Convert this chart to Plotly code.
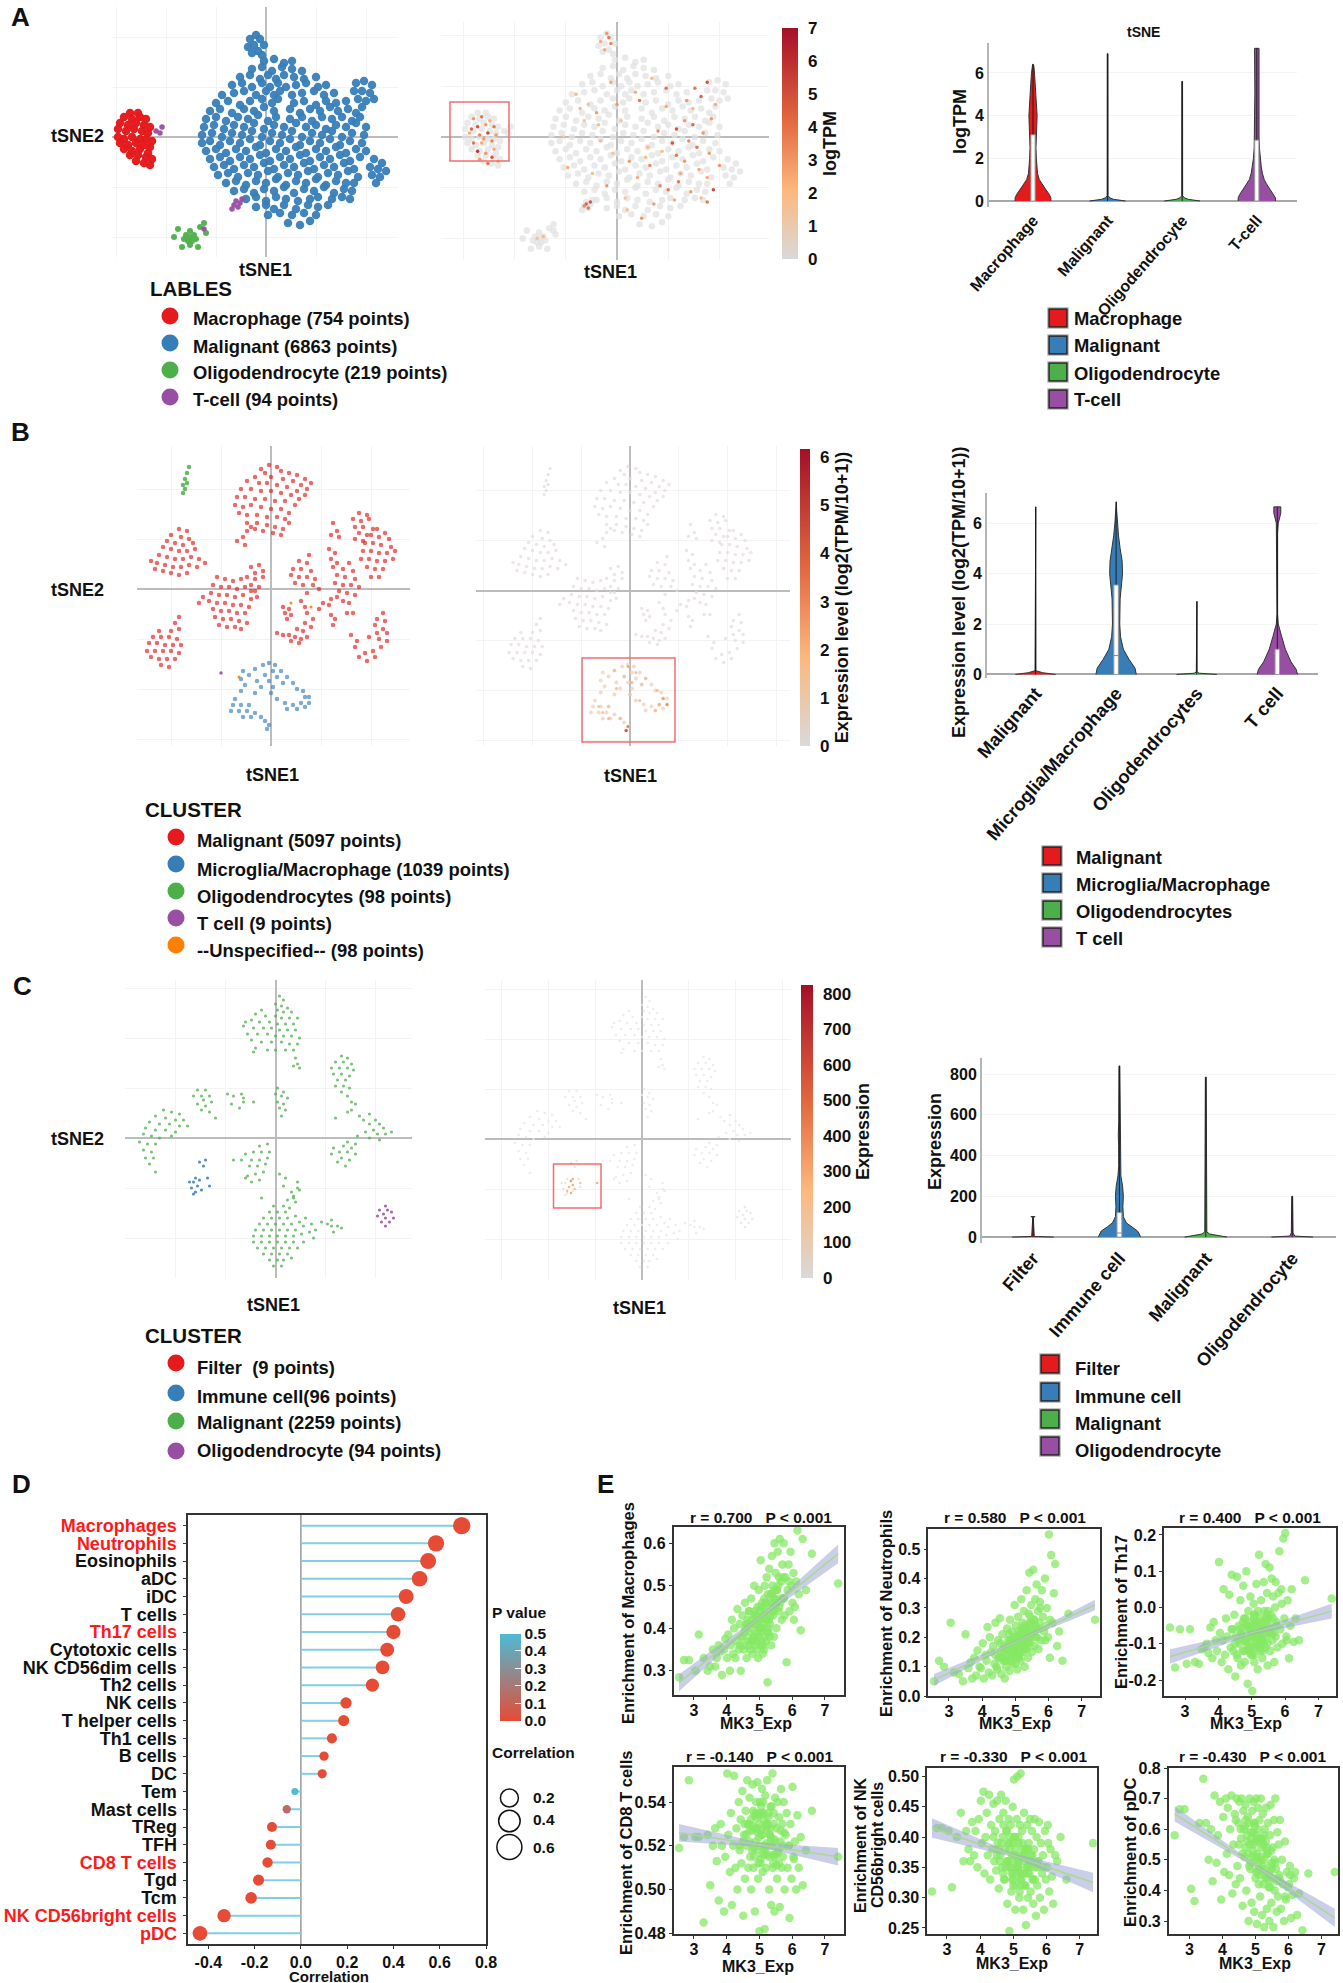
import plotly.graph_objects as go

W, H = 1343, 1983
FONT = "Liberation Sans"
RED, BLUE, GREEN, PURPLE, ORANGE = "#E41A1C", "#377EB8", "#4DAF4A", "#984EA3", "#FF7F00"

# ---------- legends ----------
A_LABELS = ["Macrophage (754 points)", "Malignant (6863 points)", "Oligodendrocyte (219 points)", "T-cell (94 points)"]
B_LABELS = ["Malignant (5097 points)", "Microglia/Macrophage (1039 points)", "Oligodendrocytes (98 points)", "T cell (9 points)", "--Unspecified-- (98 points)"]
C_LABELS = ["Filter  (9 points)", "Immune cell(96 points)", "Malignant (2259 points)", "Oligodendrocyte (94 points)"]
A_CATS = ["Macrophage", "Malignant", "Oligodendrocyte", "T-cell"]
B_CATS = ["Malignant", "Microglia/Macrophage", "Oligodendrocytes", "T cell"]
C_CATS = ["Filter", "Immune cell", "Malignant", "Oligodendrocyte"]

# ---------- tSNE A (flat u,v pairs) ----------
A_MALIGNANT = [
-1,38,4,39,9,37,13,38,-7,34,-2,35,3,33,8,35,13,34,18,33,-13,30,-8,31,-3,29,1,31,5,29,9,31,14,30,19,29,25,30,
-17,26,-12,27,-7,25,-2,27,2,25,6,27,10,25,15,26,20,27,26,25,30,26,-22,21,-16,22,-11,23,-5,21,0,23,4,21,7,23,13,21,18,22,24,23,29,21,34,22,
-25,17,-19,18,-13,16,-8,18,-2,19,3,17,6,19,14,17,19,18,25,16,30,18,35,17,40,18,-28,13,-23,14,-17,12,-11,14,-6,13,-1,15,4,13,12,14,17,12,22,14,27,13,32,15,36,13,41,14,45,12,
-30,9,-25,10,-20,8,-14,10,-9,9,-4,11,1,8,5,10,12,9,18,10,23,8,28,10,33,9,38,10,43,8,47,10,-31,5,-26,6,-21,4,-16,6,-11,5,-6,7,-1,4,4,6,9,5,15,7,20,5,25,6,30,4,35,6,40,5,45,7,50,5,
-32,1,-27,2,-22,0,-17,2,-12,1,-7,3,-2,0,3,2,8,1,13,3,18,0,23,2,28,1,33,3,38,0,43,2,49,1,-32,-3,-28,-2,-23,-4,-18,-2,-13,-3,-8,-1,-3,-4,2,-2,7,-3,12,-1,17,-4,22,-2,27,-3,32,-1,37,-4,42,-2,48,-3,
-30,-7,-25,-6,-20,-8,-15,-6,-10,-7,-5,-5,0,-8,5,-6,10,-7,15,-5,20,-8,25,-6,30,-7,35,-5,40,-8,45,-6,50,-7,-28,-11,-23,-10,-18,-12,-13,-10,-8,-11,-3,-9,2,-12,7,-10,12,-11,17,-9,22,-12,27,-10,32,-11,37,-9,42,-12,47,-10,
-26,-15,-21,-14,-16,-16,-11,-14,-6,-15,-1,-13,4,-16,9,-14,14,-15,19,-13,24,-16,29,-14,34,-15,39,-13,44,-16,-24,-19,-19,-18,-14,-20,-9,-18,-4,-19,1,-17,6,-20,11,-18,16,-19,21,-17,26,-20,31,-18,36,-19,41,-17,46,-20,
-20,-23,-15,-22,-10,-24,-5,-22,0,-23,5,-21,10,-24,15,-22,20,-23,25,-21,30,-24,35,-22,40,-23,44,-23,-16,-27,-11,-26,-6,-28,-1,-26,4,-27,9,-25,14,-28,19,-26,24,-27,29,-25,34,-28,39,-26,43,-27,
-10,-31,-5,-30,0,-32,5,-30,10,-31,16,-32,22,-31,26,-30,33,-31,38,-30,42,-31,-5,-35,0,-34,4,-36,9,-34,15,-36,21,-34,26,-35,31,-34,1,-39,7,-38,13,-39,19,-38,25,-39,11,-43,17,-44,22,-42,
-5,51,-8,49,-3,49,-6,46,-1,46,-9,45,-4,43,-7,42,-2,41,45,27,49,28,53,26,44,23,48,23,52,22,46,19,50,18,54,19,48,15,54,-11,58,-13,52,-15,56,-16,60,-17,53,-19,57,-20,55,-23]
A_MACROPHAGE = [
-68,12,-64,12,-71,10,-67,9,-63,10,-60,9,-73,7,-69,6,-65,7,-61,6,-58,5,-74,4,-70,3,-66,4,-62,3,-59,2,-74,0,-71,-1,-67,0,-63,-1,-60,-1,-57,-2,
-73,-3,-69,-4,-65,-3,-61,-4,-58,-5,-71,-6,-67,-7,-63,-6,-59,-8,-68,-9,-64,-9,-60,-10,-57,-11,-65,-12,-61,-13,-58,-14]
A_OLIGO = [-38,-50,-36,-49,-40,-49,-38,-47,-37,-52,-39,-52,-35,-51,-41,-51,-38,-54,-33,-45,-44,-46,-30,-48,-31,-43,-46,-50,-34,-55,-42,-55]
A_TCELL = [-15,-32,-13,-33,-16,-34,-14,-35,-12,-31,-17,-36,-55,3,-53,2,-52,5,-31,-46]
A_EXPR_U = [-70,-66,-62,-68,-64,-60,-72,-67,-63,-59,-70,-66,-61,-68,-64,-60,-71,-65,-61,-58,-67,-63,-5,-8,-3,-6,-4,-15,-13,-16,-14,-39,-36]
A_EXPR_V = [9,10,8,5,6,5,2,1,2,1,-3,-3,-2,-7,-8,-6,4,-1,-10,-12,-11,-13,51,47,46,43,49,-33,-32,-34,-35,-50,-49]
A_EXPR_C = [3,4,2.5,5,3,4,2.5,3.5,5.5,3,4,2.5,3.5,6,3,2.5,4.5,3,5,2.5,3,4,3,2.5,3.5,2.5,4,4.5,5,3.5,4,1.5,2]
A_BLOB_U = [-20,-14,-10,-3,2,6,11,15,20,24,29,33,37,41,46,-12,-5,4,10,16,22,27,33,39,44,-16,-8,0,9,17,24,29,35,40,45,30,36,41,47,18,25,31,37,42,14,21,28,34,38,44,48,5,12,-2,-9,-24,-18,50,44,-26]
A_BLOB_V = [21,16,12,27,8,-12,18,-5,3,15,-9,8,14,20,9,-18,-24,-30,-20,-14,-7,-3,-12,-5,-20,8,-2,16,22,29,24,4,-2,-16,-8,-22,-27,-30,-26,-33,-26,-18,6,2,-10,-24,-31,18,24,27,16,-36,-40,-8,6,-15,14,-14,-32,0]
A_BLOB_C = [2,1.5,3,2.5,1.5,3,4,2,3.5,2.5,4,3,2,4.5,3,2,3,1.5,2.5,3.5,2,5,3,4,2.5,1.5,2,3,2.5,2,4,5,3.5,2.5,3,4,3,2,5.5,3,4,2.5,4.5,3,2,3.5,2.5,3,4,5,2.5,2,3,1.5,2,2.5,2,3,4,1.5]

# ---------- tSNE B ----------
B_MALIGNANT = [
-1,62,3,61,-5,60,5,59,9,58,-3,58,13,57,17,55,20,53,-8,56,0,56,6,55,11,54,15,52,18,50,-12,54,-6,53,-2,53,3,52,8,51,13,49,17,47,-15,50,-10,50,-5,49,0,49,5,48,10,47,14,45,-17,46,-13,46,-8,45,-3,45,2,44,7,44,12,42,-18,42,-14,41,-10,42,-5,41,0,40,5,40,9,38,-16,38,-12,37,-7,37,-2,36,3,36,7,35,-12,33,-7,33,-2,32,2,31,6,30,-4,29,1,28,5,27,-8,30,9,33,
-46,30,-42,29,-50,27,-45,26,-41,25,-52,24,-48,23,-44,22,-39,23,-54,21,-50,20,-46,19,-42,19,-38,20,-56,17,-52,16,-48,15,-44,15,-40,16,-36,15,-33,13,-60,14,-57,13,-53,12,-49,11,-45,11,-41,12,-37,11,-58,10,-54,9,-50,8,-46,7,-42,8,
-27,6,-23,5,-19,4,-15,5,-29,2,-25,1,-21,1,-17,0,-13,1,-10,-1,-30,-2,-26,-3,-22,-3,-18,-4,-14,-3,-10,-5,-31,-6,-27,-7,-23,-7,-19,-8,-15,-8,-11,-9,-29,-10,-25,-11,-21,-11,-17,-12,-13,-12,-28,-14,-24,-15,-20,-15,-16,-16,-12,-17,-26,-18,-22,-19,-18,-19,-15,-20,-36,-7,-34,-4,
-10,11,-6,12,-8,8,-4,9,-12,6,-8,5,-4,6,-10,2,-6,1,-8,-1,-7,-4,
19,17,14,14,18,13,11,10,15,10,20,9,10,7,14,6,18,6,22,5,12,3,16,2,21,2,24,0,18,-2,15,-6,17,-9,
39,13,36,10,41,9,33,7,37,6,42,5,32,3,36,2,40,2,44,1,34,-1,38,-2,42,-3,36,-6,39,-7,30,-5,31,33,33,29,30,27,34,26,29,20,32,18,30,15,33,13,31,11,
44,38,48,37,41,35,45,34,49,35,42,31,46,31,51,30,44,28,48,27,42,25,46,24,53,30,57,28,50,27,54,26,59,25,47,23,51,23,55,22,60,21,46,19,50,19,54,18,58,18,62,19,45,15,49,15,53,14,57,14,61,15,48,11,52,10,56,10,50,6,54,6,
-46,-14,-48,-17,-46,-20,-50,-21,-56,-21,-59,-24,-55,-24,-51,-24,-47,-25,-61,-27,-57,-27,-53,-28,-49,-28,-45,-28,-62,-31,-58,-31,-54,-31,-50,-31,-46,-32,-60,-34,-56,-35,-52,-35,-48,-35,-55,-38,-51,-39,
18,-12,21,-15,17,-17,20,-19,13,-20,16,-21,9,-23,12,-24,15,-25,18,-24,3,-22,6,-23,10,-26,14,-27,6,-9,9,-10,7,-12,10,-13,8,-15,26,-7,29,-8,24,-10,33,-4,30,-13,32,-15,31,-18,38,-12,41,-12,
56,-12,53,-15,57,-16,52,-18,56,-20,58,-22,53,-22,49,-24,54,-25,58,-26,40,-23,43,-26,42,-29,55,-29,51,-31,47,-32,44,-34,48,-36,52,-34,-17,24,-14,26,-12,29,-13,22,-10,31]
B_MICROGLIA = [
-1,-37,2,-38,-4,-38,-8,-40,1,-41,5,-41,-14,-41,-11,-43,-3,-43,3,-44,8,-44,-15,-45,-7,-46,-1,-46,6,-47,11,-47,-13,-48,-5,-49,1,-49,13,-50,16,-51,-15,-51,-8,-52,0,-52,17,-54,19,-54,3,-55,-18,-55,19,-57,15,-57,7,-57,11,-58,-19,-58,-15,-58,-11,-58,8,-60,13,-60,17,-59,-20,-61,-16,-61,-12,-61,-8,-62,-14,-64,-10,-64,-5,-64,-3,-66,-1,-68,-2,-70]
B_OLIGO = [-41,61,-42,58,-43,55,-42,53,-44,52,-43,50,-44,48]
B_TCELL = [-25,-42]
B_UNSPEC = [-16,-44,10,-7,20,-9]
B_EXPR_U = [-1,3,-3,1,6,-7,-11,14,17,19,15,13,-14,-11,-16,-5,-1,-2,0,5,8,-8]
B_EXPR_V = [-38,-41,-43,-46,-47,-49,-58,-50,-54,-57,-57,-60,-61,-64,-58,-64,-68,-70,-52,-55,-44,-40]
B_EXPR_C = [2.2,1.5,1.2,1.8,1,1.4,1.2,1.6,2.5,2.8,2.1,1.5,1.2,1.6,1.1,1.4,3.2,4.6,1.3,1.1,1.2,1.5]

# ---------- tSNE C ----------
C_MALIGNANT = [
2,71,4,69,0,67,3,66,6,65,-7,64,1,64,4,63,8,63,-10,62,-5,61,0,61,3,60,7,60,11,60,-12,59,-15,58,-8,58,-3,58,1,57,5,57,9,57,-16,56,-11,55,-6,55,-2,55,2,54,6,54,10,54,-14,52,-9,52,-4,52,0,51,4,51,8,51,12,50,-12,49,-7,48,-2,48,3,48,7,47,11,47,-10,45,-11,43,-4,44,0,44,5,44,9,44,10,40,11,37,9,36,12,35,
33,41,36,40,30,38,34,38,38,37,28,35,32,35,36,35,39,34,29,32,33,32,37,31,31,29,35,29,30,26,34,26,37,25,33,23,36,21,38,18,40,17,36,13,
-39,24,-35,24,-41,21,-37,21,-33,21,-36,19,-32,18,-39,17,-35,16,-37,14,-33,13,-30,10,-24,22,-21,21,-17,22,-16,18,-22,17,-18,15,-16,20,-11,18,1,25,4,23,0,22,3,21,6,20,1,18,4,17,2,15,5,14,3,11,
-56,14,-52,13,-48,12,-60,11,-55,10,-50,9,-46,9,-63,8,-58,7,-53,7,-48,6,-44,6,-65,5,-60,4,-55,4,-50,3,-66,2,-62,1,-58,0,-52,1,-68,-2,-64,-3,-60,-3,-66,-6,-62,-7,-65,-10,-61,-10,-63,-13,-60,-17,
38,14,42,11,47,12,44,9,50,9,47,7,52,7,54,5,49,4,45,3,51,2,55,2,58,3,47,0,52,-1,41,1,36,-2,30,10,40,-3,34,-4,38,-5,32,-7,36,-7,40,-8,33,-10,37,-11,31,-12,35,-14,29,-5,28,-8,
-4,-3,-8,-4,-3,-7,-7,-7,-11,-7,-15,-8,-4,-10,-8,-11,-12,-11,-17,-11,-21,-11,-5,-13,-9,-14,-13,-14,-6,-17,-10,-18,-14,-19,-8,-21,-12,-22,-15,-20,2,-18,5,-20,4,-24,11,-22,11,-25,9,-29,
8,-27,9,-30,6,-31,10,-32,4,-34,7,-35,12,-26,-7,-30,-1,-34,-3,-37,1,-37,5,-37,-6,-40,-2,-40,2,-40,6,-40,10,-39,-8,-43,-4,-43,0,-43,4,-43,8,-43,12,-42,15,-40,-10,-46,-6,-46,-2,-46,2,-46,6,-46,10,-46,14,-44,18,-43,20,-46,-11,-49,-7,-49,-3,-49,1,-49,5,-49,9,-49,13,-48,17,-47,19,-50,-11,-52,-7,-52,-3,-52,1,-52,5,-52,9,-52,14,-52,-9,-55,-5,-55,-1,-55,3,-55,7,-55,11,-55,-6,-58,-2,-58,2,-58,6,-58,-3,-61,1,-61,4,-61,8,-60,-1,-64,3,-64,
23,-42,26,-43,28,-44,31,-44,33,-45,28,-41,29,-47]
C_IMMUNE = [-41,-22,-39,-24,-42,-25,-38,-21,-40,-27,-37,-26,-43,-22,-40,-20,-41,-28,-33,-24,-34,-20,-36,-14,-35,-11,-38,-12]
C_OLIGO = [55,-34,52,-36,56,-36,58,-37,54,-38,51,-39,55,-40,59,-40,53,-42,57,-42,55,-44]
C_EXPR_U = [-37,-38,-39,-36,-38,-33,-24,-40,-37]
C_EXPR_V = [-23,-21,-24,-25,-27,-22,-22,-26,-20]
C_EXPR_C = [300,350,250,200,300,150,300,220,280]

# ---------- violins: level, half width in category units ----------
A_V_Y = [[0,.15,.3,.6,.8,1,1.3,1.6,2,2.5,3,3.5,4,4.5,5,5.5,6,6.3,6.4],[0,.08,.15,.25,6.9],[0,.08,.15,.25,5.6],[0,.15,.3,.6,.8,1,1.3,1.6,2,2.5,3,4,5,6,6.8,7.15]]
A_V_W = [[.24,.24,.22,.16,.12,.085,.06,.05,.045,.04,.04,.05,.055,.05,.04,.03,.02,.012,.005],[.24,.08,.03,.006,.005],[.24,.08,.03,.006,.005],[.25,.25,.23,.17,.13,.1,.075,.06,.045,.035,.03,.03,.026,.024,.03,.03]]
A_BOX_Q3 = [3.1,0,0,2.85]
B_V_Y = [[0,.07,.15,6.65],[0,.25,.6,1,1.5,2,3,3.5,4,4.5,5,5.5,6,6.5,6.85],[0,.05,.1,2.9],[0,.2,.5,1,1.5,2,2.4,5.6,6,6.4,6.65]]
B_V_W = [[.25,.09,.006,.004],[.25,.235,.16,.09,.055,.045,.05,.062,.08,.075,.05,.03,.015,.007,.003],[.25,.03,.005,.004],[.25,.235,.17,.1,.055,.012,.004,.004,.012,.043,.043]]
B_BOX_Q3 = [0,3.55,0,1.0]
B_BOX_MED = [0,.75,0,0]
C_V_Y = [[0,3,96,100,100],[0,15,30,50,70,100,150,200,250,300,350,450,500,560,840],[0,8,15,25,785],[0,5,20,200]]
C_V_W = [[.24,.015,.003,.003,.025],[.245,.23,.21,.14,.08,.046,.04,.046,.037,.017,.008,.009,.013,.008,.005],[.245,.12,.045,.012,.005],[.24,.03,.01,.005]]
C_BOX_Q3 = [0,120,0,0]
C_BOX_MED = [0,20,0,0]

# ---------- panel D ----------
D_CELLS = ["Macrophages","Neutrophils","Eosinophils","aDC","iDC","T cells","Th17 cells","Cytotoxic cells","NK CD56dim cells","Th2 cells","NK cells","T helper cells","Th1 cells","B cells","DC","Tem","Mast cells","TReg","TFH","CD8 T cells","Tgd","Tcm","NK CD56bright cells","pDC"]
D_RED = ["Macrophages","Neutrophils","Th17 cells","CD8 T cells","NK CD56bright cells","pDC"]
D_CORR = [.695,.584,.55,.513,.455,.42,.40,.373,.353,.309,.195,.185,.134,.10,.092,-.026,-.061,-.125,-.13,-.144,-.183,-.215,-.332,-.436]
D_P = [0,0,0,0,0,0,0,0,0,0,0,0,0,.001,.002,.5,.15,.003,.002,.001,0,0,0,0]
D_SIZE_KEY = [.2,.4,.6]

# ---------- panel E ----------
MK3_EXP = [7.4,2.55,2.7,2.85,3.05,3.15,3.3,3.42,3.5,3.58,
3.65,3.7,3.76,3.82,3.86,3.92,3.96,4.02,4.05,4.1,
4.13,4.16,4.2,4.23,4.27,4.3,4.33,4.37,4.4,4.43,
4.45,4.48,4.51,4.53,4.56,4.58,4.61,4.63,4.66,4.68,
4.7,4.72,4.75,4.77,4.79,4.82,4.84,4.86,4.88,4.9,
4.92,4.94,4.96,4.98,5.0,5.02,5.04,5.06,5.08,5.1,
5.12,5.14,5.16,5.18,5.2,5.22,5.24,5.26,5.28,5.3,
5.32,5.34,5.36,5.38,5.4,5.42,5.44,5.46,5.48,5.5,
5.52,5.54,5.56,5.58,5.6,5.62,5.64,5.66,5.68,5.7,
5.72,5.74,5.77,5.8,5.83,5.86,5.89,5.92,5.95,5.98,
6.01,6.04,6.08,6.12,6.16,6.2,6.26,6.32,6.42,6.6,
4.6,4.74,4.85,4.93,5.01,5.07,5.15,5.23,5.31,5.41,
4.55,4.69,4.81,4.97,5.05,5.11,5.19,5.27,5.35,5.47,
4.4,4.9,5.0,5.1,5.25,5.45,5.6,5.75,5.9,6.05,
4.5,4.65,4.78,4.88,4.95,5.03,5.13,5.21,5.33,5.43,
5.0,5.09,5.17,5.29,5.37,5.49,5.57,5.65,5.72,4.8,
4.7,4.83,4.91,4.99,5.06,5.16,5.24,5.34,5.44,5.53]
E_MACRO = [.505,.285,.325,.325,.30,.385,.33,.30,.31,.35,
.31,.33,.36,.345,.29,.35,.375,.33,.385,.30,
.36,.42,.34,.40,.33,.37,.445,.35,.41,.30,
.38,.43,.36,.35,.46,.40,.33,.42,.37,.44,
.39,.35,.47,.42,.34,.38,.50,.44,.36,.41,
.37,.45,.33,.49,.42,.39,.56,.36,.46,.43,
.40,.35,.50,.44,.37,.52,.42,.48,.39,.54,
.41,.46,.36,.57,.50,.43,.38,.60,.47,.53,
.40,.49,.58,.44,.52,.61,.46,.51,.42,.55,
.47,.60,.43,.52,.32,.49,.55,.44,.58,.50,
.46,.53,.45,.51,.63,.48,.395,.61,.49,.575,
.41,.37,.43,.35,.45,.40,.47,.42,.38,.44,
.39,.44,.41,.38,.42,.36,.46,.40,.48,.45,
.36,.43,.40,.34,.273,.49,.45,.47,.51,.42,
.38,.41,.40,.43,.39,.44,.41,.46,.43,.47,
.40,.45,.38,.42,.48,.46,.50,.47,.52,.37,
.36,.38,.42,.40,.37,.43,.39,.45,.44,.49]
E_NEUT = [.26,.05,.12,.10,.25,.08,.075,.05,.21,.095,
.115,.06,.13,.07,.155,.10,.095,.18,.06,.14,
.12,.235,.08,.20,.15,.07,.17,.11,.25,.10,
.09,.19,.13,.265,.15,.075,.21,.12,.17,.06,
.16,.10,.23,.14,.19,.085,.26,.12,.18,.22,
.11,.20,.15,.31,.13,.24,.17,.09,.27,.19,
.14,.21,.12,.33,.18,.25,.15,.29,.10,.22,
.16,.36,.20,.13,.28,.42,.18,.24,.31,.15,
.21,.43,.26,.17,.33,.20,.38,.23,.29,.16,
.25,.32,.19,.36,.27,.22,.40,.24,.30,.20,
.55,.13,.48,.25,.35,.45,.17,.22,.12,.28,
.13,.16,.19,.14,.17,.20,.15,.18,.22,.19,
.18,.12,.21,.16,.19,.13,.23,.17,.20,.25,
.14,.18,.11,.22,.16,.27,.24,.30,.19,.26,
.13,.15,.17,.15,.18,.16,.21,.19,.23,.20,
.14,.17,.21,.24,.18,.22,.26,.20,.23,.13,
.12,.18,.16,.20,.14,.18,.23,.16,.25,.22]
E_TH17 = [.025,-.055,-.165,-.06,-.155,-.06,-.15,-.155,-.115,-.11,
-.10,-.125,-.055,-.14,-.04,-.09,-.12,.125,-.07,-.15,
-.09,.05,-.13,-.03,-.08,-.17,.035,-.11,.09,-.06,
-.12,-.02,-.19,-.08,.085,-.14,-.05,-.10,.02,-.16,
-.07,-.12,.06,-.03,-.15,-.09,.10,-.05,-.21,-.01,
-.11,-.06,.03,-.13,-.04,-.23,-.08,.01,-.15,-.02,
-.10,.065,-.05,-.17,-.07,.145,-.03,-.12,.02,-.09,
-.14,-.06,.07,-.01,-.11,.12,-.08,.04,-.16,-.03,
-.05,.11,-.12,-.02,.08,-.09,.03,-.07,-.15,.00,
.07,-.04,-.11,.04,.155,-.06,.05,-.10,.19,-.03,
.205,-.08,.02,-.14,-.05,.05,-.095,-.03,-.09,.075,
-.09,-.04,-.10,-.06,-.13,-.02,-.08,-.11,-.05,-.07,
-.13,-.07,-.03,-.09,-.05,-.11,-.01,-.08,-.06,-.10,
-.06,-.12,-.08,-.04,-.10,-.02,-.07,-.05,.01,-.09,
-.10,-.06,-.12,-.05,-.08,-.11,-.04,-.07,-.09,-.03,
-.06,-.13,-.08,-.04,-.10,-.01,-.06,-.03,-.08,-.09,
-.08,-.05,-.11,-.07,-.03,-.09,-.06,-.12,-.04,-.07]
E_CD8 = [.515,.519,.524,.55,.524,.524,.485,.525,.502,.52,
.528,.513,.495,.53,.52,.49,.515,.553,.525,.508,
.535,.493,.52,.552,.51,.528,.50,.54,.518,.532,
.512,.545,.488,.525,.505,.536,.52,.55,.51,.53,
.542,.515,.50,.527,.548,.51,.534,.49,.522,.54,
.518,.549,.505,.53,.481,.54,.514,.525,.546,.508,
.535,.52,.482,.543,.51,.528,.55,.516,.535,.50,
.525,.538,.493,.52,.553,.512,.53,.49,.542,.516,
.528,.505,.54,.518,.533,.492,.522,.546,.51,.53,
.515,.54,.50,.525,.535,.51,.52,.487,.53,.505,
.547,.515,.522,.50,.534,.51,.524,.502,.518,.536,
.525,.532,.515,.528,.52,.535,.518,.53,.525,.51,
.53,.522,.536,.512,.527,.54,.519,.533,.524,.515,
.52,.528,.535,.516,.53,.523,.512,.526,.52,.514,
.522,.53,.518,.535,.526,.512,.532,.521,.528,.516,
.534,.525,.529,.515,.538,.522,.517,.527,.52,.529,
.527,.519,.533,.524,.538,.516,.529,.522,.535,.511]
E_NK = [.39,.31,.415,.415,.41,.317,.40,.44,.36,.41,
.38,.36,.425,.37,.41,.35,.43,.46,.39,.475,
.34,.40,.44,.37,.47,.33,.42,.38,.455,.36,
.41,.345,.46,.39,.315,.43,.37,.47,.35,.40,
.44,.33,.38,.46,.41,.29,.36,.43,.245,.39,
.42,.31,.37,.45,.34,.495,.40,.28,.36,.43,
.5,.35,.39,.30,.42,.505,.33,.41,.37,.28,
.44,.32,.38,.255,.35,.42,.30,.39,.34,.43,
.31,.37,.41,.33,.29,.38,.43,.35,.27,.40,
.32,.36,.425,.30,.39,.34,.37,.28,.41,.33,
.35,.42,.31,.38,.335,.29,.37,.36,.40,.33,
.36,.33,.39,.35,.37,.32,.40,.34,.36,.38,
.38,.34,.36,.33,.37,.35,.31,.39,.34,.36,
.40,.35,.32,.37,.34,.38,.33,.36,.35,.39,
.37,.39,.35,.38,.34,.40,.36,.33,.37,.35,
.39,.34,.36,.38,.32,.35,.37,.33,.35,.41,
.42,.36,.40,.33,.38,.35,.32,.37,.34,.36]
E_PDC = [.46,.58,.665,.665,.405,.365,.62,.765,.62,.50,
.60,.43,.71,.49,.58,.69,.37,.64,.46,.70,
.52,.67,.45,.60,.71,.39,.55,.65,.42,.70,
.48,.62,.69,.44,.57,.70,.35,.66,.51,.61,
.68,.40,.56,.64,.30,.70,.47,.59,.36,.66,
.53,.69,.33,.61,.44,.70,.29,.57,.67,.42,
.63,.38,.70,.50,.32,.65,.55,.28,.60,.45,
.67,.34,.52,.62,.41,.30,.58,.68,.36,.49,
.54,.28,.63,.40,.70,.47,.33,.59,.38,.55,
.44,.63,.34,.50,.42,.30,.56,.37,.46,.41,
.42,.48,.31,.385,.44,.46,.32,.39,.27,.455,
.52,.58,.49,.55,.46,.60,.51,.47,.56,.43,
.60,.54,.48,.62,.52,.45,.57,.50,.44,.53,
.63,.51,.56,.47,.58,.41,.49,.43,.38,.45,
.55,.60,.52,.57,.62,.50,.56,.48,.53,.46,
.58,.49,.54,.44,.52,.47,.50,.43,.45,.62,
.63,.55,.59,.51,.46,.57,.42,.54,.48,.44]
FIT_X = [2.55,5,7.4]
FIT_LINES = [[.272,.425,.575],[.055,.185,.31],[-.135,-.07,-.01],[.526,.5205,.515],[.415,.37,.325],[.65,.48,.31]]
FIT_CI = [[.02,.004,.022],[.02,.004,.018],[.02,.005,.02],[.004,.001,.004],[.016,.003,.016],[.025,.006,.03]]

# ---------- helpers ----------
fig = go.Figure()
layout = {}
shapes, annots = [], []
axis_n = [0]
LEG = 18.4

def xp(x): return x / W
def yp(y): return 1 - y / H

def new_axes(x0, y0, x1, y1, xopts, yopts):
    axis_n[0] += 1
    n = axis_n[0]
    suffix = "" if n == 1 else str(n)
    layout["xaxis" + suffix] = dict(domain=[xp(x0), xp(x1)], anchor="y" + suffix, **xopts)
    layout["yaxis" + suffix] = dict(domain=[yp(y1), yp(y0)], anchor="x" + suffix, **yopts)
    return "x" + suffix, "y" + suffix

def txt(x, y, s, size=17, anchor="left", angle=0, color="#111", bold=True):
    annots.append(dict(x=xp(x), y=yp(y), xref="paper", yref="paper", text=s, showarrow=False,
                       xanchor=anchor, yanchor="middle", textangle=angle, align="center",
                       font=dict(family=FONT, size=size, color=color, weight=700 if bold else 400)))

def rect(x0, y0, x1, y1, line, width=1, fill="rgba(0,0,0,0)", kind="rect"):
    shapes.append(dict(type=kind, xref="paper", yref="paper", x0=xp(x0), x1=xp(x1), y0=yp(y1), y1=yp(y0),
                       line=dict(color=line, width=width), fillcolor=fill))

def pairs(flat): return flat[0::2], flat[1::2]

TF = lambda s: dict(family=FONT, size=s, color="#111", weight=700)
EXPR_SCALE = [[0, "#d9d9d9"], [.3, "#fdb77c"], [.6, "#e2683f"], [1, "#a50f26"]]
AX_HIDE = dict(showticklabels=False, ticks="", showline=False, showgrid=True, gridcolor="#f3f3f3",
               zeroline=True, zerolinecolor="#bcbcbc", zerolinewidth=2, fixedrange=True)

def tsne_axes(x0, y0, x1, y1, cx, cy, sx, sy):
    xo = dict(AX_HIDE, range=[(x0 - cx) / sx, (x1 - cx) / sx], dtick=25)
    yo = dict(AX_HIDE, range=[(cy - y1) / sy, (cy - y0) / sy], dtick=25)
    return new_axes(x0, y0, x1, y1, xo, yo)

def dots(ax, flat, color, size, opacity=.85):
    u, v = pairs(flat)
    fig.add_trace(go.Scatter(x=u, y=v, mode="markers", xaxis=ax[0], yaxis=ax[1], showlegend=False, hoverinfo="skip",
                             marker=dict(color=color, size=size, opacity=opacity, line=dict(width=0))))

def colorbar(x0, y0, x1, y1, title, dtick, tsize=17, pad=7):
    return dict(x=xp(x0), xanchor="left", y=yp(y1), yanchor="bottom", len=y1 - y0, lenmode="pixels",
                thickness=x1 - x0, thicknessmode="pixels", outlinewidth=0, xpad=0, ypad=0, dtick=dtick,
                tick0=0, ticks="outside", ticklen=pad, tickcolor="rgba(0,0,0,0)", tickfont=TF(tsize),
                title=dict(text=title, side="right", font=TF(18)))

def expr_trace(ax, u, v, c, size, cmax, cb=None):
    m = dict(color=c, colorscale=EXPR_SCALE, cmin=0, cmax=cmax, size=size, opacity=.95, line=dict(width=0))
    if cb:
        m["colorbar"] = cb
        m["showscale"] = True
    else:
        m["showscale"] = False
    fig.add_trace(go.Scatter(x=u, y=v, mode="markers", xaxis=ax[0], yaxis=ax[1], showlegend=False, hoverinfo="skip", marker=m))

def violin_panel(x0, y0, x1, y1, cats, vy, vw, q3, med, colors, ytick, ytitle, ymin, ymax, cat0, step, title_x, title_y, catsize, titlesize=18):
    xr = [(x0 - cat0) / step, (x1 - cat0) / step]
    xo = dict(range=xr, tickvals=list(range(len(cats))), ticktext=cats, tickangle=-49, tickfont=TF(catsize), ticks="",
              showline=False, showgrid=False, zeroline=False, fixedrange=True, automargin=False)
    yo = dict(range=[ymin, ymax], tickvals=ytick, tickfont=TF(16), ticks="", showline=True, linecolor="#b5b5b5",
              linewidth=2, showgrid=True, gridcolor="#f4f4f4", zeroline=True, zerolinecolor="#a8a8a8", zerolinewidth=1.5,
              fixedrange=True, automargin=False)
    ax = new_axes(x0, y0, x1, y1, xo, yo)
    bw = .028
    for i, (ys, ws) in enumerate(zip(vy, vw)):
        px = [i - w for w in ws] + [i + w for w in reversed(ws)]
        py = list(ys) + list(reversed(ys))
        fig.add_trace(go.Scatter(x=px, y=py, mode="lines", fill="toself", fillcolor=colors[i], xaxis=ax[0], yaxis=ax[1],
                                 showlegend=False, hoverinfo="skip", line=dict(color="#333", width=1)))
        fig.add_trace(go.Scatter(x=[i, i], y=[ys[0], ys[-1]], mode="lines", xaxis=ax[0], yaxis=ax[1], showlegend=False,
                                 hoverinfo="skip", line=dict(color="rgba(20,20,20,.85)", width=1)))
        if q3[i] > 0:
            fig.add_trace(go.Scatter(x=[i - bw, i + bw, i + bw, i - bw, i - bw], y=[0, 0, q3[i], q3[i], 0], mode="lines", fill="toself",
                                     fillcolor="white", line=dict(color="#999", width=1), xaxis=ax[0], yaxis=ax[1],
                                     showlegend=False, hoverinfo="skip"))
            if med[i] > 0:
                fig.add_trace(go.Scatter(x=[i - bw, i + bw], y=[med[i], med[i]], mode="lines", line=dict(color="#888", width=1),
                                         xaxis=ax[0], yaxis=ax[1], showlegend=False, hoverinfo="skip"))
    txt(title_x, title_y, ytitle, titlesize, "center", -90)
    return ax

def legend_circles(title, tx, ty, labels, colors, cx, cys, lx, lys):
    txt(tx, ty, title, 20.5, "left")
    for s, c, cy, ly in zip(labels, colors, cys, lys):
        rect(cx - 8.5, cy - 8.5, cx + 8.5, cy + 8.5, c, 0, c, "circle")
        txt(lx, ly, s, LEG)

def legend_squares(labels, colors, sx0, sx1, cys, lx, lys):
    for s, c, cy, ly in zip(labels, colors, cys, lys):
        h = (sx1 - sx0) / 2
        rect(sx0 - 1.5, cy - h - 1.5, sx1 + 1.5, cy + h + 1.5, "#c4c4c4", 1)
        rect(sx0, cy - h, sx1, cy + h, "#222", 1.5, c)
        txt(lx, ly, s, LEG)

COLS = [RED, BLUE, GREEN, PURPLE]

# ================= Panel A =================
ax = tsne_axes(112, 7, 398, 257, 266, 137, 2, 2)
dots(ax, A_MALIGNANT, BLUE, 8.5, .95)
dots(ax, A_MACROPHAGE, RED, 8.5, .98)
dots(ax, A_OLIGO, GREEN, 6, .95)
dots(ax, A_TCELL, PURPLE, 5.5, .95)
ax = tsne_axes(441, 22, 769, 260, 617, 137, 2.05, 2.03)
for flat in (A_MALIGNANT, A_MACROPHAGE, A_OLIGO, A_TCELL):
    dots(ax, flat, "#e2e2e2", 6.5, .75)
expr_trace(ax, A_EXPR_U + A_BLOB_U, A_EXPR_V + A_BLOB_V, A_EXPR_C + A_BLOB_C, 3.5, 7,
           colorbar(782, 28, 798, 259, "logTPM", 1))
rect(450, 102, 509, 161, "#f26d6d", 1.5)
txt(265, 270, "tSNE1", 18, "center")
txt(610, 272, "tSNE1", 18, "center")
txt(77, 136, "tSNE2", 18, "center")
legend_circles("LABLES", 148, 289, A_LABELS, COLS, 170, [316, 343, 370, 397], 191, [318, 346, 372, 400])
violin_panel(989, 43, 1297, 207, A_CATS, A_V_Y, A_V_W, A_BOX_Q3, [0, 0, 0, 0], COLS, [0, 2, 4, 6], "logTPM", -.28, 7.4, 1033, 74.6, 960, 122, 16)
txt(1143, 32, "tSNE", 14, "center")
legend_squares(A_CATS, COLS, 1049, 1067, [318, 345, 372, 399], 1072, [318, 345, 373, 400])

# ================= Panel B =================
ax = tsne_axes(137, 445.5, 410, 746, 271, 589, 2, 2)
dots(ax, B_MALIGNANT, RED, 4.5, .65)
dots(ax, B_MICROGLIA, BLUE, 4.5, .65)
dots(ax, B_OLIGO, GREEN, 4.5, .85)
dots(ax, B_TCELL, PURPLE, 3.5, .9)
dots(ax, B_UNSPEC, ORANGE, 3, .9)
ax = tsne_axes(476, 445.5, 790, 746, 630, 590.5, 1.95, 2)
dots(ax, B_MALIGNANT, "#e6dcd8", 3.5, .7)
dots(ax, B_OLIGO, "#dddddd", 3, .8)
dots(ax, B_MICROGLIA, "#f3d4c4", 4, .85)
expr_trace(ax, B_EXPR_U, B_EXPR_V, B_EXPR_C, 3, 6.17, colorbar(800, 449, 810, 746, "Expression level (log2(TPM/10+1))", 1))
rect(582, 658, 675, 742, "#f26d6d", 1.5)
txt(272, 775, "tSNE1", 18, "center")
txt(630, 776, "tSNE1", 18, "center")
txt(77, 590, "tSNE2", 18, "center")
legend_circles("CLUSTER", 143, 809, B_LABELS, COLS + [ORANGE], 176, [837, 864, 891, 918, 945], 195, [841, 869, 896, 923, 950])
violin_panel(987, 493, 1318, 678, B_CATS, B_V_Y, B_V_W, B_BOX_Q3, B_BOX_MED, COLS, [0, 2, 4, 6], "Expression level (log2(TPM/10+1))", -.14, 7.2, 1035.5, 80.6, 959, 592, 18.5)
legend_squares(B_CATS, COLS, 1043, 1061, [856, 883, 910, 937], 1074, [857, 884, 911, 939])

# ================= Panel C =================
ax = tsne_axes(125, 980, 412, 1278, 275.5, 1138, 2, 2)
dots(ax, C_MALIGNANT, GREEN, 3.2, .75)
dots(ax, C_IMMUNE, BLUE, 3.2, .85)
dots(ax, C_OLIGO, PURPLE, 3.2, .85)
ax = tsne_axes(485, 980, 791, 1280, 642, 1139, 1.87, 2)
dots(ax, C_MALIGNANT, "#ebe7e5", 2.6, .8)
dots(ax, C_IMMUNE, "#e9dcd2", 2.4, .8)
dots(ax, C_OLIGO, "#e6e3e3", 2.6, .8)
expr_trace(ax, C_EXPR_U, C_EXPR_V, C_EXPR_C, 2.5, 825, colorbar(801, 985, 813, 1278, "Expression", 100))
rect(553.5, 1164, 601, 1208, "#f26d6d", 1.5)
txt(273, 1305, "tSNE1", 18, "center")
txt(639, 1308, "tSNE1", 18, "center")
txt(77, 1139, "tSNE2", 18, "center")
legend_circles("CLUSTER", 143, 1335, C_LABELS, COLS, 176, [1363, 1393, 1421, 1451], 195, [1367, 1396, 1422, 1450])
violin_panel(982, 1058, 1336, 1243, C_CATS, C_V_Y, C_V_W, C_BOX_Q3, C_BOX_MED, COLS, [0, 200, 400, 600, 800], "Expression", -29, 879, 1033, 86.4, 935, 1142, 18.2)
legend_squares(C_CATS, COLS, 1041, 1059, [1364, 1392, 1419, 1446], 1072.5, [1368, 1396, 1423, 1450])

# ================= Panel D =================
FR = dict(showline=True, linecolor="#333", linewidth=2, mirror=True, zeroline=False, showgrid=False, fixedrange=True, automargin=False)
labels_d = [f'<span style="color:#ff1a1a">{c}</span>' if c in D_RED else c for c in D_CELLS]
xt_d = [-.4, -.2, 0, .2, .4, .6, .8]
ax = new_axes(187.5, 1515, 486, 1944,
              dict(FR, range=[-.49, .8], tickvals=xt_d, ticktext=[f"{v:.1f}" for v in xt_d], ticks="outside", ticklen=3, tickcolor="#333", tickfont=TF(16)),
              dict(FR, range=[23.6, -.6], tickvals=list(range(len(D_CELLS))), ticktext=labels_d, ticks="outside", ticklen=3, tickcolor="#333", tickfont=TF(18), ticklabelstandoff=2))
fig.add_trace(go.Scatter(x=[0, 0], y=[-.6, 23.6], mode="lines", xaxis=ax[0], yaxis=ax[1], showlegend=False, hoverinfo="skip", line=dict(color="#999", width=1.5)))
seg_x, seg_y = [], []
for i, r in enumerate(D_CORR):
    seg_x += [0, r, None]
    seg_y += [i, i, None]
fig.add_trace(go.Scatter(x=seg_x, y=seg_y, mode="lines", xaxis=ax[0], yaxis=ax[1], showlegend=False, hoverinfo="skip", line=dict(color="#7fd0e4", width=2)))
SIZE_OF = lambda r: 4.5 + 15.5 * abs(r) ** .5
DOT_SCALE = [[0, "#E64B35"], [1, "#4DBBD5"]]
cb_d = dict(colorbar(499.5, 1634, 520.5, 1720.5, "", .1, 15.5, 6))
cb_d.update(ticks="inside", tickcolor="white", title=None, tickformat=".1f")
fig.add_trace(go.Scatter(x=D_CORR, y=list(range(len(D_CORR))), mode="markers", xaxis=ax[0], yaxis=ax[1], showlegend=False, hoverinfo="skip",
                         marker=dict(size=[SIZE_OF(r) for r in D_CORR], color=D_P, cmin=0, cmax=.5, colorscale=DOT_SCALE, opacity=1,
                                     line=dict(width=0), colorbar=cb_d, showscale=True)))
txt(329, 1976, "Correlation", 15, "center")
txt(490, 1612, "P value", 15.5)
txt(490, 1752, "Correlation", 15.5)
for r, cy, ly in zip(D_SIZE_KEY, [1798, 1821, 1847], [1797, 1819, 1847]):
    d = 18 + (r - .2) * 17.5
    rect(509.4 - d / 2, cy - d / 2, 509.4 + d / 2, cy + d / 2, "#111", 1.5, "white", "circle")
    txt(531, ly, f"{r:.1f}", 15.5)

# ================= Panel E =================
E_SERIES = [E_MACRO, E_NEUT, E_TH17, E_CD8, E_NK, E_PDC]
E_YNAMES = ["Enrichment of Macrophages", "Enrichment of Neutrophils", "Enrichment of Th17", "Enrichment of CD8 T cells", None, "Enrichment of pDC"]
E_TITLES = ["r = 0.700   P < 0.001", "r = 0.580   P < 0.001", "r = 0.400   P < 0.001", "r = -0.140   P < 0.001", "r = -0.330   P < 0.001", "r = -0.430   P < 0.001"]
E_YTICKS = [[.3, .4, .5, .6], [0, .1, .2, .3, .4, .5], [-.2, -.1, 0, .1, .2], [.48, .50, .52, .54], [.25, .30, .35, .40, .45, .50], [.3, .4, .5, .6, .7, .8]]
E_YFMT = [1, 1, 1, 2, 2, 1]
E_XT = [3, 4, 5, 6, 7]
E_BOX = [(673.5, 1527, 844, 1695), (928.4, 1529, 1100, 1696), (1164, 1528, 1336, 1695.7), (673.5, 1767, 844, 1934), (927, 1768, 1096.7, 1934), (1168.7, 1768, 1338.4, 1934)]
E_XR = [[2.38, 7.58], [2.38, 7.55], [2.37, 7.53], [2.38, 7.58], [2.4, 7.51], [2.37, 7.51]]
E_YR = [[.243, .638], [0, .569], [-.243, .219], [.4797, .556], [.24, .514], [.2575, .8]]
E_TPOS = [(761, 1517), (1015, 1517), (1250, 1517), (759, 1756), (1013, 1756), (1252.6, 1756)]
E_YPOS = [(628, 1613), (886, 1614), (1121, 1612), (626, 1853), (872, 1845), (1130, 1852)]
E_XPOS = [(756, 1723), (1015, 1723), (1245.5, 1723), (758, 1966), (1012, 1963), (1255, 1963)]
EF = dict(showline=True, linecolor="#333", linewidth=1.5, mirror=True, zeroline=False, showgrid=False, fixedrange=True, automargin=False, ticks="outside", ticklen=3, tickcolor="#333", tickfont=TF(16))
for k in range(6):
    x0, y0, x1, y1 = E_BOX[k]
    ax = new_axes(x0, y0, x1, y1,
                  dict(EF, range=E_XR[k], tickvals=E_XT, ticktext=[str(v) for v in E_XT], ticklabelstandoff=-3),
                  dict(EF, range=E_YR[k], tickvals=E_YTICKS[k], ticktext=[f"{v:.{E_YFMT[k]}f}" for v in E_YTICKS[k]]))
    fig.add_trace(go.Scatter(x=MK3_EXP, y=E_SERIES[k], mode="markers", xaxis=ax[0], yaxis=ax[1], showlegend=False, hoverinfo="skip",
                             marker=dict(color="#86e864", size=8.5, opacity=.75, line=dict(width=0))))
    up = [a + b for a, b in zip(FIT_LINES[k], FIT_CI[k])]
    lo = [a - b for a, b in zip(FIT_LINES[k], FIT_CI[k])]
    fig.add_trace(go.Scatter(x=FIT_X + FIT_X[::-1], y=up + lo[::-1], mode="lines", fill="toself", fillcolor="rgba(160,165,215,.55)",
                             line=dict(width=0), xaxis=ax[0], yaxis=ax[1], showlegend=False, hoverinfo="skip"))
    fig.add_trace(go.Scatter(x=FIT_X, y=FIT_LINES[k], mode="lines", line=dict(color="#a9d98e", width=1.5), xaxis=ax[0], yaxis=ax[1], showlegend=False, hoverinfo="skip"))
    txt(E_TPOS[k][0], E_TPOS[k][1], E_TITLES[k], 15.5, "center")
    if E_YNAMES[k]:
        txt(E_YPOS[k][0], E_YPOS[k][1], E_YNAMES[k], 16.5, "center", -90)
    txt(E_XPOS[k][0], E_XPOS[k][1], "MK3_Exp", 16, "center")
txt(860, 1845, "Enrichment of NK", 16, "center", -90)
txt(877, 1845, "CD56bright cells", 16, "center", -90)

for letter, x, y in [("A", 20, 17), ("B", 20, 432), ("C", 22, 986), ("D", 21, 1484), ("E", 605, 1484)]:
    txt(x, y, letter, 26, "center")

fig.update_layout(width=W, height=H, margin=dict(l=0, r=0, t=0, b=0, pad=0), paper_bgcolor="white", plot_bgcolor="rgba(0,0,0,0)",
                  showlegend=False, font=dict(family=FONT), shapes=shapes, annotations=annots, **layout)
fig.write_html("out.html", config={"displayModeBar": False}, post_script="document.body.style.margin='0';document.body.style.overflow='hidden';")
